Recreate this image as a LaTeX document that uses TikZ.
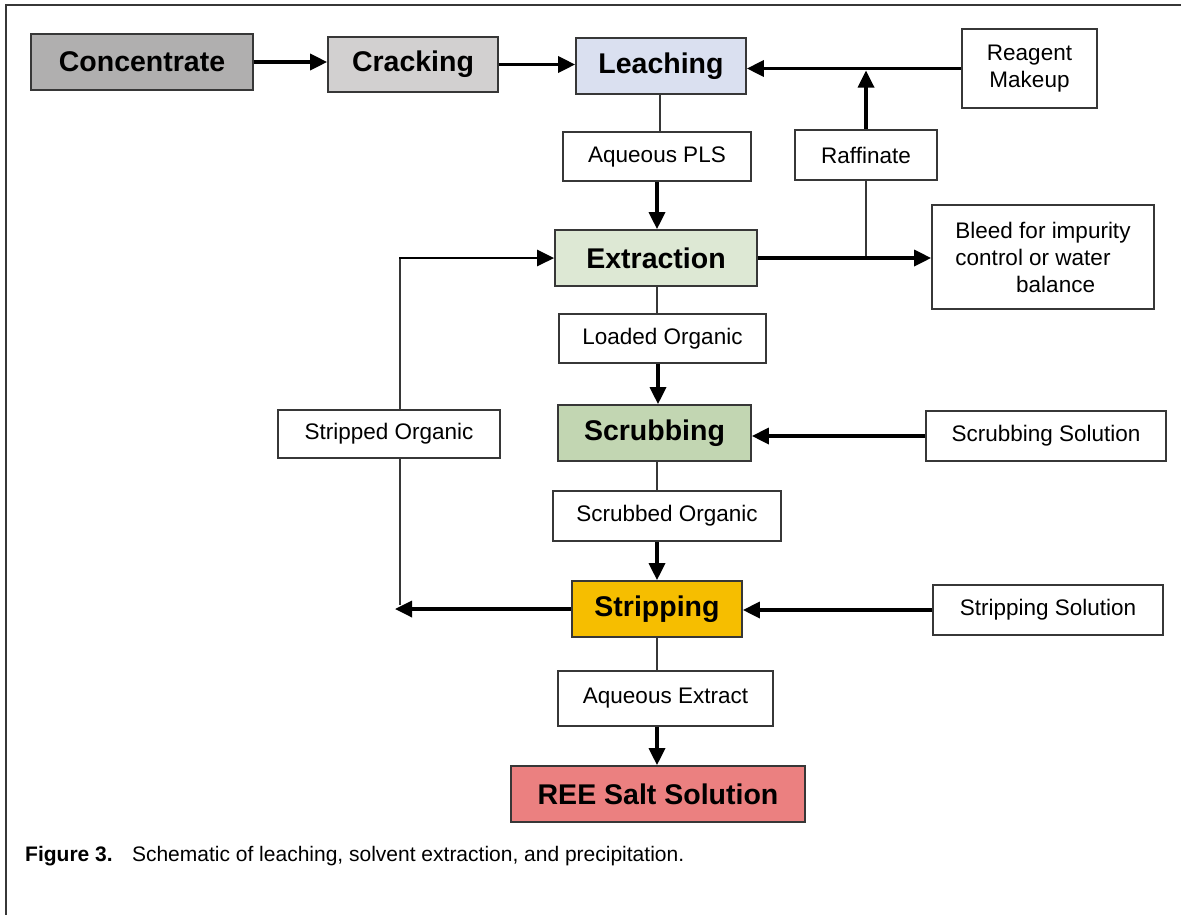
\documentclass[tikz,border=0pt]{standalone}
\usepackage{fontspec}
\setmainfont{Liberation Sans}
\usetikzlibrary{arrows.meta}
\definecolor{framec}{RGB}{55,55,55}
\definecolor{cconc}{RGB}{176,175,175}
\definecolor{ccrack}{RGB}{210,208,208}
\definecolor{cleach}{RGB}{218,224,240}
\definecolor{cextr}{RGB}{221,232,212}
\definecolor{cscrub}{RGB}{194,214,178}
\definecolor{cstrip}{RGB}{246,190,0}
\definecolor{cree}{RGB}{235,128,128}
\begin{document}
\begin{tikzpicture}[x=1pt,y=-1pt,
  proc/.style={draw=framec,line width=1.7pt,inner sep=0pt,font=\fontsize{28.5}{30}\selectfont\bfseries},
  lab/.style={draw=framec,line width=1.7pt,fill=white,inner sep=0pt,align=center,font=\fontsize{22.5}{27}\selectfont},
  flow/.style={line width=3.4pt,-{Triangle[length=17pt,width=16pt]}},
  thin/.style={line width=1.6pt,draw=framec}]
\useasboundingbox (0,0) rectangle (1181,914);
\draw[line width=1.6pt,framec] (6,920) -- (6,5) -- (1190,5);
% process boxes
\node[proc,fill=cconc,minimum width=222pt,minimum height=56pt] (conc) at (142,62) {Concentrate};
\node[proc,fill=ccrack,minimum width=170pt,minimum height=55pt] (crack) at (413,64.5) {Cracking};
\node[proc,fill=cleach,minimum width=170pt,minimum height=56pt] (leach) at (661,66) {Leaching};
\node[proc,fill=cextr,minimum width=202pt,minimum height=56pt] (extr) at (656,258) {Extraction};
\node[proc,fill=cscrub,minimum width=193pt,minimum height=56pt] (scrub) at (654.5,433) {Scrubbing};
\node[proc,fill=cstrip,minimum width=170pt,minimum height=56pt] (strip) at (657,609) {Stripping};
\node[proc,fill=cree,minimum width=294pt,minimum height=56pt] (ree) at (658,794) {REE Salt Solution};
% label boxes
\node[lab,minimum width=135pt,minimum height=79pt] (reagent) at (1029.5,68.5) {Reagent\\Makeup};
\node[lab,minimum width=188pt,minimum height=49pt] (pls) at (657,156.5) {Aqueous PLS};
\node[lab,minimum width=142pt,minimum height=50pt] (raff) at (866,155) {Raffinate};
\node[lab,minimum width=222pt,minimum height=104pt,align=left] (bleed) at (1043,257) {Bleed for impurity\\control or water\\\hspace*{2.7em}balance};
\node[lab,minimum width=207pt,minimum height=49pt] (loaded) at (662.5,338.5) {Loaded Organic};
\node[lab,minimum width=240pt,minimum height=50pt] (scrubsol) at (1046,436) {Scrubbing Solution};
\node[lab,minimum width=222pt,minimum height=48pt] (stripped) at (389,434) {Stripped Organic};
\node[lab,minimum width=228pt,minimum height=50pt] (scrubbed) at (667,516) {Scrubbed Organic};
\node[lab,minimum width=230pt,minimum height=50pt] (stripsol) at (1048,610) {Stripping Solution};
\node[lab,minimum width=215pt,minimum height=55pt] (aqext) at (665.5,698.5) {Aqueous Extract};
% helper coordinates
\coordinate (lc) at (400,258);
\coordinate (lb) at (395,609);
% top row
\draw[flow] (conc.east) -- (conc.east -| crack.west);
\draw[flow] (crack.east) -- (crack.east -| leach.west);
\draw[flow] (reagent.west) -- (reagent.west -| leach.east);
\draw[flow] (raff.north) -- ([yshift=-2pt]raff.north |- reagent.west);
% main column
\draw[thin] (leach.south -| 660,0) -- (pls.north -| 660,0);
\draw[flow] (pls.south -| 657,0) -- (extr.north -| 657,0);
\draw[thin] (extr.south -| 657,0) -- (loaded.north -| 657,0);
\draw[flow] (loaded.south -| 658,0) -- (scrub.north -| 658,0);
\draw[thin] (scrub.south -| 657,0) -- (scrubbed.north -| 657,0);
\draw[flow] (scrubbed.south -| 657,0) -- (strip.north -| 657,0);
\draw[thin] (strip.south -| 657,0) -- (aqext.north -| 657,0);
\draw[flow] (aqext.south -| 657,0) -- (ree.north -| 657,0);
% right side
\draw[flow] (extr.east) -- (extr.east -| bleed.west);
\draw[thin] (raff.south) -- ([yshift=2pt]raff.south |- extr.east);
\draw[flow] (scrubsol.west) -- (scrubsol.west -| scrub.east);
\draw[flow] (stripsol.west) -- (stripsol.west -| strip.east);
% recycle loop
\draw[thin] (stripped.south -| lc) -- ([yshift=4pt]lc |- lb);
\draw[thin] (stripped.north -| lc) -- (lc);
\draw[line width=2.8pt,-{Triangle[length=17pt,width=16pt]}] ([xshift=-1pt]lc) -- (extr.west);
\draw[flow] (strip.west) -- (strip.west -| lb);
% caption
\node[anchor=base west,inner sep=0pt,font=\fontsize{21}{24}\selectfont] (cap) at (25,861) {\textbf{Figure 3.}\hspace{0.55em} Schematic of leaching, solvent extraction, and precipitation.};
\end{tikzpicture}
\end{document}
